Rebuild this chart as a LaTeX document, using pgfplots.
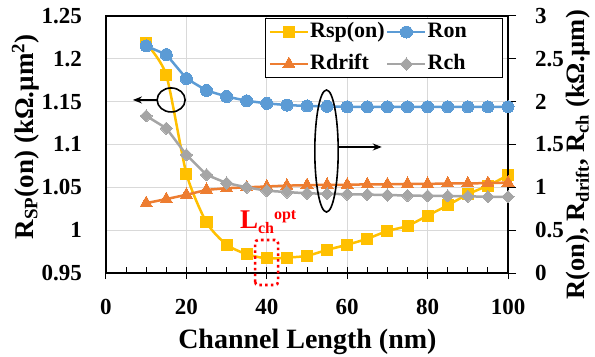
\documentclass[border=0pt]{standalone}
\usepackage{pgfplots}
\pgfplotsset{compat=1.18}
\usepackage{fontspec}
\setmainfont{Liberation Serif}
\usetikzlibrary{arrows.meta}
\definecolor{cY}{HTML}{FFC000}
\definecolor{cB}{HTML}{5B9BD5}
\definecolor{cO}{HTML}{ED7D31}
\definecolor{cG}{HTML}{A5A5A5}
\definecolor{cGrid}{HTML}{D9D9D9}
\begin{document}
\begin{tikzpicture}
\pgfplotsset{
  base/.style={
    width=402bp, height=257bp, scale only axis,
    xmin=0, xmax=100,
    /pgf/number format/assume math mode=true,
    tick label style={font=\bfseries\fontsize{23bp}{23bp}\selectfont, inner sep=0pt},
    axis line style={line width=1.1bp, black},
  },
  legimg/.style={legend image code/.code={
    \draw[##1, mark repeat=2, mark phase=2] plot coordinates {(0bp,0bp) (19bp,0bp) (38bp,0bp)};}},
}
\begin{axis}[base,
  clip=false,
  ymin=0.95, ymax=1.25,
  ytick={0.95,1,1.05,1.1,1.15,1.2,1.25},
  yticklabels={0.95,1,1.05,1.1,1.15,1.2,1.25},
  ytick pos=left,
  ytick style={draw=none},
  yticklabel style={anchor=east, xshift=-24bp},
  xtick={0,20,40,60,80,100},
  xtick pos=bottom,
  minor x tick num=3,
  xtick align=center,
  major tick length=12bp,
  minor tick length=6bp,
  minor x tick style={/pgfplots/tick align=inside, line width=1bp, black},
  major x tick style={line width=1bp, black},
  xticklabel style={anchor=base, yshift=-35bp},
  xmajorgrids, ymajorgrids,
  grid style={cGrid, line width=1bp},
  every axis y label/.style={at={(axis description cs:-0.2,0.53)}, rotate=90, anchor=center, font=\bfseries\fontsize{27bp}{30bp}\selectfont},
  every axis x label/.style={at={(axis description cs:0.501,-0.292)}, anchor=base, font=\bfseries\fontsize{28bp}{30bp}\selectfont},
  ylabel={R\textsubscript{SP}(on) (kΩ.µm\textsuperscript{2})},
  xlabel={Channel Length (nm)},
]
\addplot[cY, line width=2.5bp, smooth, tension=0.4, mark=square*, mark size=5.5bp, mark options={solid, fill=cY, draw=cY, line width=0pt}]
coordinates {(10,1.218)(15,1.181)(20,1.066)(25,1.009)(30,0.983)(35,0.972)(40,0.967)(45,0.968)(50,0.970)(55,0.977)(60,0.983)(65,0.990)(70,0.999)(75,1.005)(80,1.017)(85,1.029)(90,1.042)(95,1.052)(100,1.064)};
% annotations (left axis)
\draw[line width=1.6bp, black] (axis cs:16.2,1.152) ellipse [x radius=14bp, y radius=12bp];
\draw[line width=1.6bp, black, -{Stealth[length=9bp,width=7bp]}] ([xshift=-14bp]axis cs:16.2,1.152) -- (axis cs:6.7,1.152);
\draw[red, line width=2.6bp, dash pattern=on 2.6bp off 3.2bp, rounded corners=3bp] (axis cs:37.1,0.936) rectangle (axis cs:42.8,0.9885);
\node[red, anchor=base west, inner sep=0pt, font=\bfseries] at (axis cs:33.3,1.0025)
  {\fontsize{27bp}{27bp}\selectfont L{\fontsize{16bp}{16bp}\selectfont\raisebox{-5bp}{ch}\raisebox{9bp}{opt}}};
\end{axis}
\begin{axis}[base,
  clip=false,
  ymin=0, ymax=3,
  axis x line=none,
  axis y line*=right,
  ytick={0,0.5,1,1.5,2,2.5,3},
  yticklabels={0,0.5,1,1.5,2,2.5,3},
  ytick align=outside,
  major tick length=8bp,
  major tick style={line width=1bp, black},
  yticklabel style={anchor=west, xshift=19bp},
  every axis y label/.style={at={(axis description cs:1.174,0.46)}, rotate=90, anchor=center, font=\bfseries\fontsize{26.5bp}{30bp}\selectfont},
  ylabel={R(on), R\textsubscript{drift}, R\textsubscript{ch} (kΩ.µm)},
  legend columns=2,
  legend cell align=left,
  legend style={at={(axis description cs:0.988,0.992)}, anchor=north east,
    draw=black, line width=1bp, inner xsep=3bp, inner ysep=3bp,
    nodes={font=\bfseries\fontsize{22bp}{22bp}\selectfont, inner sep=1bp, text width=71bp, text height=15bp, text depth=4bp},
    row sep=11bp,
    /tikz/every even column/.append style={column sep=4bp}},
]
\addlegendimage{legimg, cY, line width=2.5bp, mark=square*, mark size=5.5bp, mark options={solid, fill=cY, draw=cY, line width=0pt}}
\addlegendentry{Rsp(on)}
\addplot[legimg, cB, line width=2.5bp, mark=*, mark size=6bp, mark options={solid, fill=cB, draw=cB, line width=0pt}]
coordinates {(10,2.65)(15,2.55)(20,2.27)(25,2.13)(30,2.06)(35,2.01)(40,1.98)(45,1.96)(50,1.95)(55,1.945)(60,1.94)(65,1.94)(70,1.94)(75,1.94)(80,1.94)(85,1.94)(90,1.94)(95,1.94)(100,1.94)};
\addlegendentry{Ron}
\addplot[legimg, cO, line width=2.5bp, mark=triangle*, mark size=7bp, mark options={solid, fill=cO, draw=cO, line width=0pt}]
coordinates {(10,0.816)(15,0.863)(20,0.913)(25,0.97)(30,0.99)(35,1.0)(40,1.01)(45,1.02)(50,1.025)(55,1.03)(60,1.03)(65,1.035)(70,1.035)(75,1.04)(80,1.04)(85,1.045)(90,1.045)(95,1.05)(100,1.055)};
\addlegendentry{Rdrift}
\addplot[legimg, cG, line width=2.5bp, mark=square*, mark size=4.3bp, mark options={solid, fill=cG, draw=cG, line width=0pt, rotate=45}]
coordinates {(10,1.834)(15,1.69)(20,1.38)(25,1.146)(30,1.05)(35,1.0)(40,0.96)(45,0.945)(50,0.93)(55,0.925)(60,0.92)(65,0.915)(70,0.91)(75,0.905)(80,0.9)(85,0.9)(90,0.895)(95,0.89)(100,0.89)};
\addlegendentry{Rch}
% annotations (right axis)
\draw[line width=1.6bp, black] (axis cs:54.85,1.424) ellipse [x radius=11.7bp, y radius=61bp];
\draw[line width=1.6bp, black, -{Stealth[length=9bp,width=7bp]}] (axis cs:57.7,1.471) -- (axis cs:68.6,1.471);
\end{axis}
\pgfresetboundingbox
\path[use as bounding box] (-106bp,-84bp) rectangle (489bp,273bp);
\end{tikzpicture}
\end{document}
